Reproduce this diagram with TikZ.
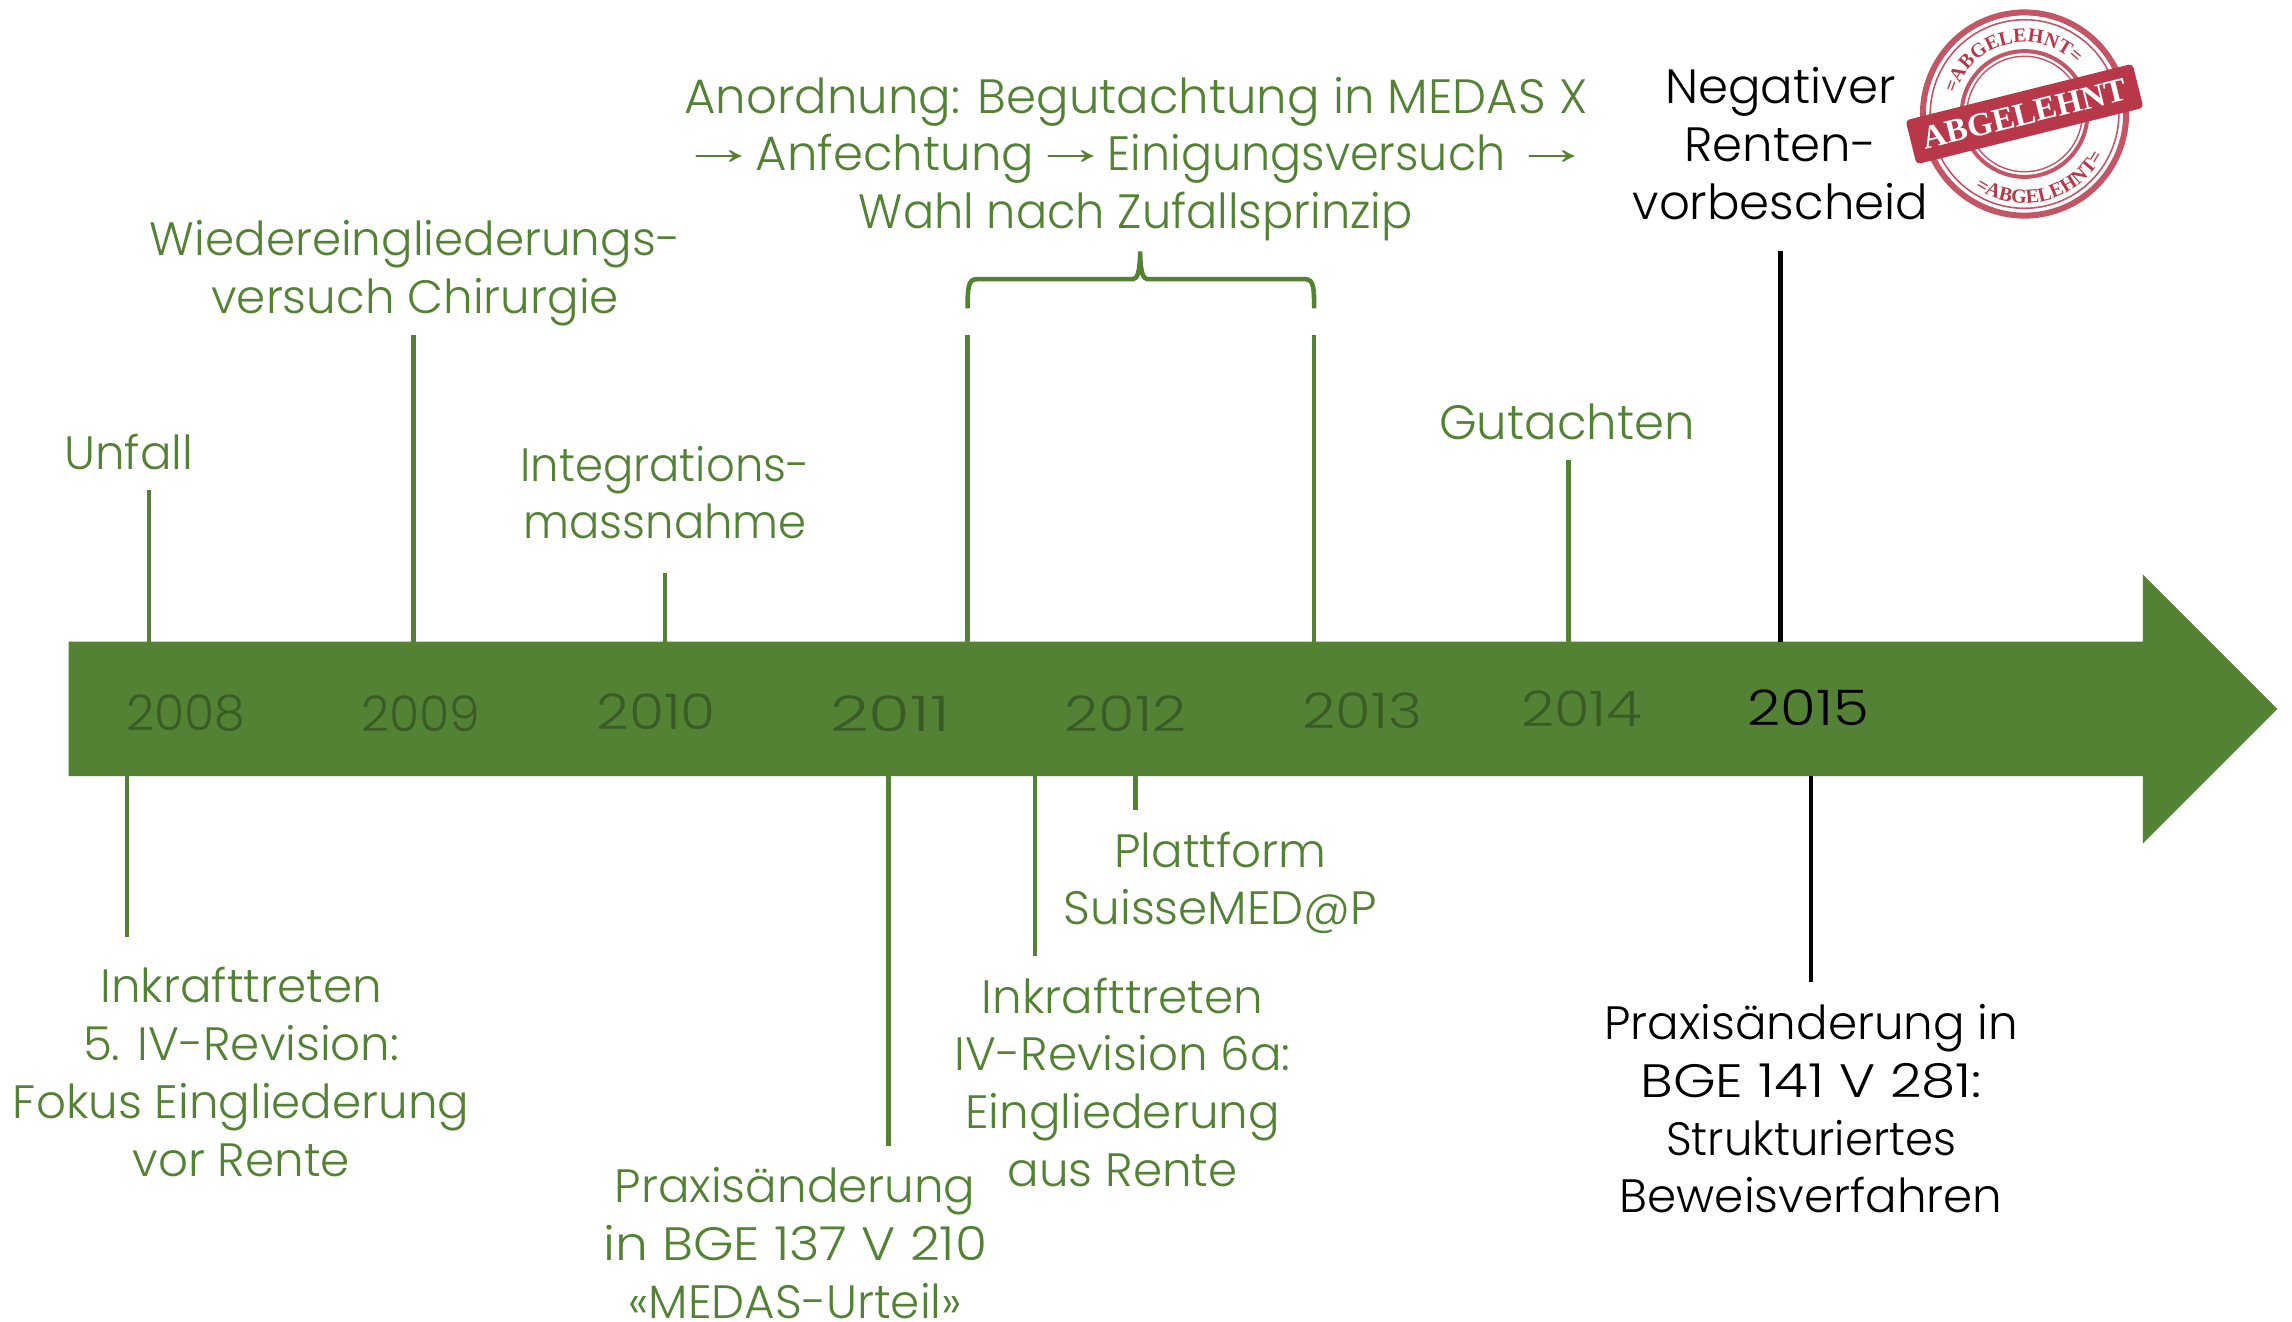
\documentclass[tikz,border=0pt]{standalone}
\usepackage{graphicx}
\usepackage{fontspec}
\setmainfont{Poppins}[UprightFont=* Light]
\newfontfamily\arrowfont{Liberation Sans}
\newfontfamily\stampfont{Liberation Serif}[UprightFont=* Bold]
\usetikzlibrary{decorations.text}
\definecolor{tlgreen}{HTML}{548235}
\definecolor{tldark}{HTML}{3B5B26}
\definecolor{stampred}{HTML}{B8384A}
\newcommand{\arr}{\raisebox{6pt}{\scalebox{1.6}[1]{\arrowfont →}}}
\newcommand{\sx}[2]{\scalebox{#1}[1]{#2}}
\tikzset{
  lbl/.style={inner sep=0pt,align=center,text=tlgreen,font=\fontsize{46.8}{57.8}\selectfont},
  lblb/.style={lbl,font=\fontsize{48.2}{57.8}\selectfont},
  blbl/.style={lbl,text=black},
  year/.style={inner sep=0pt,text=tldark,font=\fontsize{49}{50}\selectfont},
  gtick/.style={draw=tlgreen,line width=4.6pt},
  btick/.style={draw=black,line width=4.6pt},
}
\begin{document}
\begin{tikzpicture}[x=1.4617pt,y=-1.4617pt]
\useasboundingbox (0,0) rectangle (1568,904.4);
% timeline arrow
\fill[tlgreen] (47,439) -- (1466,439) -- (1466,393) -- (1558,485) -- (1466,577) -- (1466,531) -- (47,531) -- cycle;
% years
\node[year] (y08) at (127,488) {2008};
\node[year] (y09) at (288,488) {2009};
\node[year] (y10) at (449,487) {\sx{1.16}{2010}};
\node[year] (y11) at (609,488) {\sx{1.38}{2011}};
\node[year] (y12) at (770,488) {\sx{1.21}{2012}};
\node[year] (y13) at (932,486) {\sx{1.18}{2013}};
\node[year] (y14) at (1082,485) {\sx{1.18}{2014}};
\node[year,text=black] (y15) at (1237,484) {\sx{1.18}{2015}};
% labels
\node[lbl] (unfall) at (88,313.5) {\strut Unfall};
\node[lbl] (wied) at (284,186.5) {\strut Wiedereingliederungs-\\versuch Chirurgie\strut};
\node[lbl] (integ) at (455,341) {\strut \sx{.96}{Integrations-}\\\sx{.96}{massnahme}\strut};
\node[lblb] (anord) at (777,109) {\strut Anordnung: Begutachtung in MEDAS X\\\arr{}\kern-15pt{} Anfechtung\kern-15pt{} \arr{}\kern-15pt{} \sx{.955}{Einigungsversuch}~\kern-18pt{} \arr\\\sx{.96}{Wahl nach Zufallsprinzip}\strut};
\node[lblb] (gut) at (1072,292.5) {\strut Gutachten};
\node[blbl,lblb,text=black] (neg) at (1218,102.5) {\strut Negativer\\Renten-\\vorbescheid\strut};
\node[lbl] (ink5) at (165,737.5) {\strut Inkrafttreten\\5. IV-Revision:\\Fokus Eingliederung\\vor Rente\strut};
\node[lbl] (prax1) at (544,854.5) {\strut Praxisänderung\\\sx{1.11}{in BGE 137 V 210}\\«MEDAS-Urteil»\strut};
\node[lbl] (platt) at (835,605) {\strut Plattform\\SuisseMED@P\strut};
\node[lbl] (ink6) at (768,744.5) {\strut Inkrafttreten\\IV-Revision 6a:\\Eingliederung\\aus Rente\strut};
\node[blbl] (prax2) at (1239,762.5) {\strut Praxisänderung in\\\sx{1.17}{BGE 141 V 281:}\\\sx{.96}{Strukturiertes}\\Beweisverfahren\strut};
% ticks above
\coordinate (a1t) at (102,335); \coordinate (a1b) at (102,439);
\coordinate (a2t) at (283,229); \coordinate (a2b) at (283,439);
\coordinate (a3t) at (455,392); \coordinate (a3b) at (455,439);
\coordinate (a4t) at (662,229); \coordinate (a4b) at (662,439);
\coordinate (a5t) at (899,229); \coordinate (a5b) at (899,439);
\coordinate (a6t) at (1073,315); \coordinate (a6b) at (1073,439);
\coordinate (a7t) at (1218,172); \coordinate (a7b) at (1218,439);
\draw[gtick] (a1t) -- (a1b);
\draw[gtick] (a2t) -- (a2b);
\draw[gtick] (a3t) -- (a3b);
\draw[gtick] (a4t) -- (a4b);
\draw[gtick] (a5t) -- (a5b);
\draw[gtick] (a6t) -- (a6b);
\draw[btick] (a7t) -- (a7b);
% ticks below
\coordinate (b1t) at (87,531); \coordinate (b1b) at (87,641);
\coordinate (b2t) at (608,531); \coordinate (b2b) at (608,784);
\coordinate (b3t) at (708,531); \coordinate (b3b) at (708,654);
\coordinate (b4t) at (777,531); \coordinate (b4b) at (777,554);
\coordinate (b5t) at (1239,531); \coordinate (b5b) at (1239,672);
\draw[gtick] (b1t) -- (b1b);
\draw[gtick] (b2t) -- (b2b);
\draw[gtick] (b3t) -- (b3b);
\draw[gtick] (b4t) -- (b4b);
\draw[btick] (b5t) -- (b5b);
% brace
\draw[gtick,line join=round] (662,211) .. controls (662,198) and (662,191) .. (668,191) -- (775,191) .. controls (778,191) and (780,186) .. (780,172)
  (780,172) .. controls (780,186) and (782,191) .. (785,191) -- (893,191) .. controls (899,191) and (899,198) .. (899,211);
% stamp
\begin{scope}[shift={(1385,78)},y=1.4617pt,rotate=14]
  \draw[stampred,line width=6pt,opacity=.85] (0,0) circle (69.5);
  \draw[stampred,line width=1.6pt,opacity=.85] (0,0) circle (64.5);
  \draw[stampred,line width=4pt,opacity=.85] (0,0) circle (43);
  \draw[stampred,line width=1.4pt,opacity=.85] (0,0) circle (39.5);
  \path[decorate,decoration={text along path,text align=center,text={|\stampfont\fontsize{20}{20}\selectfont\color{stampred}|=ABGELEHNT=}}]
    (150:49) arc[start angle=150,end angle=30,radius=49];
  \path[decorate,decoration={text along path,text align=center,text={|\stampfont\fontsize{20}{20}\selectfont\color{stampred}|=ABGELEHNT=}}]
    (210:61) arc[start angle=210,end angle=330,radius=61];
  \fill[stampred,rounded corners=4pt] (-80,-15.5) rectangle (80,15.5);
  \node[inner sep=0pt,text=white,font=\stampfont\fontsize{33}{33}\selectfont,rotate=14] (stamp) at (0,0) {ABGELEHNT};
\end{scope}
\end{tikzpicture}
\end{document}
